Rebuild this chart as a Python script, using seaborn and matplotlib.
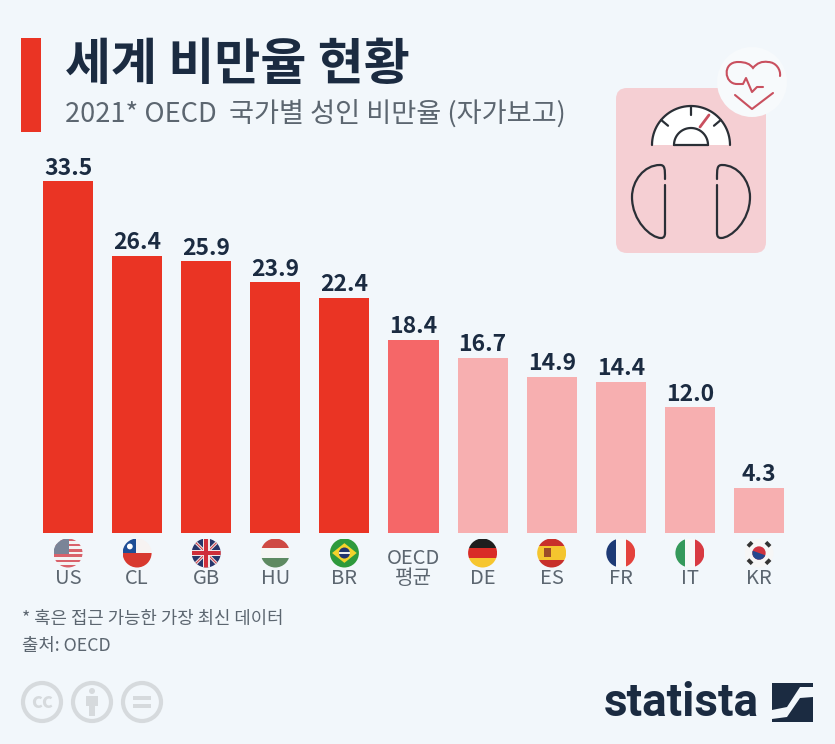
import numpy as np
import pandas as pd
import matplotlib
matplotlib.use("Agg")
import matplotlib.pyplot as plt
import matplotlib.patches as mp
from matplotlib.path import Path
import seaborn as sns

# data
countries = ["US", "CL", "GB", "HU", "BR", "OECD\n평균", "DE", "ES", "FR", "IT", "KR"]
obesity = [33.5, 26.4, 25.9, 23.9, 22.4, 18.4, 16.7, 14.9, 14.4, 12.0, 4.3]
flag_codes = ["US", "CL", "GB", "HU", "BR", None, "DE", "ES", "FR", "IT", "KR"]

RED = "#EA3424"
MID = "#F56768"
LIGHT = "#F7AFB0"
bar_colors = [RED] * 5 + [MID] + [LIGHT] * 5
BG = "#F2F7FB"
DARK = "#1B2B41"
GREY = "#5C6670"
INK = "#2A2F36"

sns.set_theme(style="white")
plt.rcParams["font.family"] = ["Noto Sans CJK KR", "DejaVu Sans"]

W, H = 835, 744
fig = plt.figure(figsize=(W / 100, H / 100), dpi=100, facecolor=BG)

# pixel-coordinate layer for title, icons, flags
deco = fig.add_axes([0, 0, 1, 1], zorder=0)
deco.set_xlim(0, W)
deco.set_ylim(H, 0)
deco.axis("off")

# bar axes
BOTTOM, TOP = 533, 150
STEP = 69.1
LEFT = 68 - STEP / 2
ax = fig.add_axes([LEFT / W, 1 - BOTTOM / H, 11 * STEP / W, (BOTTOM - TOP) / H], zorder=1)
ax.patch.set_alpha(0)
df = pd.DataFrame({"country": countries, "value": obesity})
sns.barplot(data=df, x="country", y="value", hue="country", palette=bar_colors,
            legend=False, width=0.724, saturation=1, linewidth=0, ax=ax)
ax.set_xlim(-0.5, 10.5)
ax.set_ylim(0, (BOTTOM - TOP) / 10.5)
ax.set_xlabel("")
ax.set_ylabel("")
ax.set_yticks([])
sns.despine(ax=ax, left=True, bottom=True)
for c in ax.containers:
    ax.bar_label(c, fmt="%.1f", padding=1, fontsize=16.5, fontweight="bold", color=DARK)
ax.tick_params(axis="x", length=0, pad=40, labelsize=14.5, labelcolor=GREY)
for t in ax.get_xticklabels():
    t.set_va("bottom")
    t.set_linespacing(0.9)


def line(xs, ys, color=INK, lw=1.6, z=5):
    deco.plot(xs, ys, color=color, lw=lw, solid_capstyle="round", zorder=z)


def flag(code, cx, cy, r=14.5):
    clip = mp.Circle((cx, cy), r, transform=deco.transData)

    def rect(x0, y0, x1, y1, color):
        p = mp.Rectangle((cx + x0 * r, cy + y0 * r), (x1 - x0) * r, (y1 - y0) * r,
                         fc=color, ec="none", zorder=3)
        deco.add_patch(p)
        p.set_clip_path(clip)
        return p

    def poly(pts, color):
        p = mp.Polygon([(cx + a * r, cy + b * r) for a, b in pts], fc=color, ec="none", zorder=4)
        deco.add_patch(p)
        p.set_clip_path(clip)
        return p

    def disc(a, b, rad, color, z=5):
        p = mp.Circle((cx + a * r, cy + b * r), rad * r, fc=color, ec="none", zorder=z)
        deco.add_patch(p)
        p.set_clip_path(clip)
        return p

    if code == "US":
        edges = np.linspace(-1, 1, 12)
        for i in range(11):
            rect(-1, edges[i], 1, edges[i + 1], "#D9626B" if i % 2 == 0 else "#F4F4F4")
        poly([(-1, -1), (0.1, -1), (0.1, 0.05), (-1, 0.05)], "#7A8497")
    elif code == "CL":
        rect(-1, -1, 1, 0, "#F7F3F2")
        rect(-1, 0, 1, 1, "#D8392F")
        poly([(-1, -1), (-0.1, -1), (-0.1, 0), (-1, 0)], "#1E4E96")
        disc(-0.5, -0.45, 0.2, "#FFFFFF")
    elif code == "GB":
        rect(-1, -1, 1, 1, "#27366B")
        for s in (1, -1):
            poly([(-1, -s * 0.85), (-0.85, -s), (1, s * 0.85), (0.85, s)], "#F0E8E8")
            poly([(-1, -s * 0.95), (-0.95, -s), (1, s * 0.95), (0.95, s)], "#CF3B45")
        rect(-0.24, -1, 0.24, 1, "#F0E8E8").set_zorder(5)
        rect(-1, -0.24, 1, 0.24, "#F0E8E8").set_zorder(5)
        rect(-0.13, -1, 0.13, 1, "#CF2E3A").set_zorder(6)
        rect(-1, -0.13, 1, 0.13, "#CF2E3A").set_zorder(6)
    elif code == "HU":
        rect(-1, -1, 1, -0.33, "#CF4A44")
        rect(-1, -0.33, 1, 0.33, "#F6F6F4")
        rect(-1, 0.33, 1, 1, "#5E8A62")
    elif code == "BR":
        rect(-1, -1, 1, 1, "#2E9A3C")
        poly([(-0.85, 0), (0, -0.68), (0.85, 0), (0, 0.68)], "#F3D32C")
        disc(0, 0, 0.38, "#23356F")
        rect(-0.38, -0.05, 0.38, 0.05, "#EEEEEE").set_zorder(6)
    elif code == "DE":
        rect(-1, -1, 1, -0.33, "#1E1E1E")
        rect(-1, -0.33, 1, 0.33, "#D92C27")
        rect(-1, 0.33, 1, 1, "#F6C62F")
    elif code == "ES":
        rect(-1, -1, 1, -0.5, "#C8302B")
        rect(-1, -0.5, 1, 0.5, "#F4C52E")
        rect(-1, 0.5, 1, 1, "#C8302B")
        rect(-0.5, -0.32, -0.05, 0.3, "#9C4B28")
    elif code == "FR":
        rect(-1, -1, -0.33, 1, "#1E3A75")
        rect(-0.33, -1, 0.33, 1, "#F8F8F8")
        rect(0.33, -1, 1, 1, "#E4423C")
    elif code == "IT":
        rect(-1, -1, -0.33, 1, "#35995B")
        rect(-0.33, -1, 0.33, 1, "#F8F8F8")
        rect(0.33, -1, 1, 1, "#D83A42")
    elif code == "KR":
        rect(-1, -1, 1, 1, "#F6F6F6")
        disc(0, 0, 0.46, "#CF3340")
        p = mp.Wedge((cx, cy), 0.46 * r, 20, 200, fc="#24478F", ec="none", zorder=6)
        deco.add_patch(p)
        for a, b in [(-0.62, -0.6), (0.62, -0.6), (-0.62, 0.6), (0.62, 0.6)]:
            ang = 45 if a * b < 0 else -45
            s = mp.Rectangle((cx + (a - 0.2) * r, cy + (b - 0.13) * r), 0.4 * r, 0.26 * r, fc="#333333",
                             ec="none", zorder=5,
                             transform=matplotlib.transforms.Affine2D().rotate_deg_around(
                                 cx + a * r, cy + b * r, ang) + deco.transData)
            deco.add_patch(s)


for i, code in enumerate(flag_codes):
    if code:
        flag(code, 68 + i * STEP, 553)

# header
deco.add_patch(mp.Rectangle((21, 38), 20, 94, fc=RED, ec="none"))
deco.text(65, 65, "세계 비만율 현황", fontsize=36, fontweight="bold", color=DARK, va="center", ha="left")
deco.text(65, 115, "2021* OECD  국가별 성인 비만율 (자가보고)", fontsize=19.6, color=GREY, va="center", ha="left")

# scale icon
deco.add_patch(mp.FancyBboxPatch((616, 88), 150, 165, boxstyle="round,pad=0,rounding_size=11",
                                 fc="#F5CFD3", ec="none", zorder=1))
deco.add_patch(mp.Circle((752, 82), 35, fc="#F7FAFC", ec="none", zorder=2))
GX, GY = 691, 145
deco.add_patch(mp.Wedge((GX, GY), 39, 180, 360, fc="#FFFFFF", ec="none", zorder=3))
t = np.radians(np.arange(180, 361, 4))
line(GX + 39 * np.cos(t), GY + 39 * np.sin(t))
line(GX + 17 * np.cos(t), GY + 17 * np.sin(t))
line([GX - 17, GX + 17], [GY, GY])
for ang in (-140, -90, -40):
    a = np.radians(ang)
    line([GX + 39 * np.cos(a), GX + 30 * np.cos(a)], [GY + 39 * np.sin(a), GY + 30 * np.sin(a)])
line([700, 709], [127, 115], color="#C9505F", lw=2)
for sgn in (-1, 1):
    # outer curve of each foot, from the top inner corner round to the bottom inner corner
    verts = [(26, 34), (26, 24), (26, 20), (31, 20), (47, 20), (59, 36), (59, 52),
             (59, 76), (40, 93), (30, 93), (27, 93), (26, 91), (26, 88)]
    codes = [Path.MOVETO] + [Path.CURVE4] * 12
    verts = [(GX + sgn * a, 145 + b) for a, b in verts]
    deco.add_patch(mp.PathPatch(Path(verts, codes), fc="none", ec=INK, lw=1.6, capstyle="round", zorder=5))
    line([GX + sgn * 26, GX + sgn * 26], [145 + 40, 145 + 88])

# heart
HEART = "#C9505F"
deco.add_patch(mp.PathPatch(Path(
    [(737, 84), (724, 84), (722, 62), (738, 62), (746, 62), (750, 64), (753, 68),
     (757, 63), (762, 61), (768, 62), (776, 62), (781, 70), (780, 76)],
    [Path.MOVETO] + [Path.CURVE4] * 12), fc="none", ec=HEART, lw=1.5, capstyle="round", zorder=5))
line([737, 743, 746, 752, 757, 763], [84, 84, 78, 92, 87, 87], color=HEART, lw=1.5)
line([735, 752, 773], [95, 109, 93], color=HEART, lw=1.5)

# footer
deco.text(22, 619, "* 혹은 접근 가능한 가장 최신 데이터", fontsize=12.8, color=GREY, va="center")
deco.text(22, 646, "출처: OECD", fontsize=12.8, color=GREY, va="center")

CC = "#D6DADD"
for cx in (42, 92, 142):
    deco.add_patch(mp.Circle((cx, 702), 19, fc="none", ec=CC, lw=3))
deco.text(42, 701, "cc", fontsize=15, fontweight="bold", color=CC, ha="center", va="center")
deco.add_patch(mp.Circle((92, 691), 3, fc=CC, ec="none"))
deco.add_patch(mp.Rectangle((86, 696), 12, 10, fc=CC, ec="none"))
deco.add_patch(mp.Rectangle((89, 704), 6, 12, fc=CC, ec="none"))
deco.add_patch(mp.Rectangle((133, 696), 18, 4, fc=CC, ec="none"))
deco.add_patch(mp.Rectangle((133, 704), 18, 4, fc=CC, ec="none"))

# logo
deco.text(681, 703, "statista", fontsize=33, fontweight="bold", color=DARK, ha="center", va="center",
          family=["Roboto"])
deco.add_patch(mp.Polygon([(772, 683), (813, 683), (813, 687), (800, 687), (787, 707), (772, 710)], fc=DARK, ec="none"))
deco.add_patch(mp.Polygon([(813, 697), (813, 722), (772, 722), (772, 719), (787, 717), (800, 698)], fc=DARK, ec="none"))

fig.savefig("out.png", dpi=100, facecolor=BG)
